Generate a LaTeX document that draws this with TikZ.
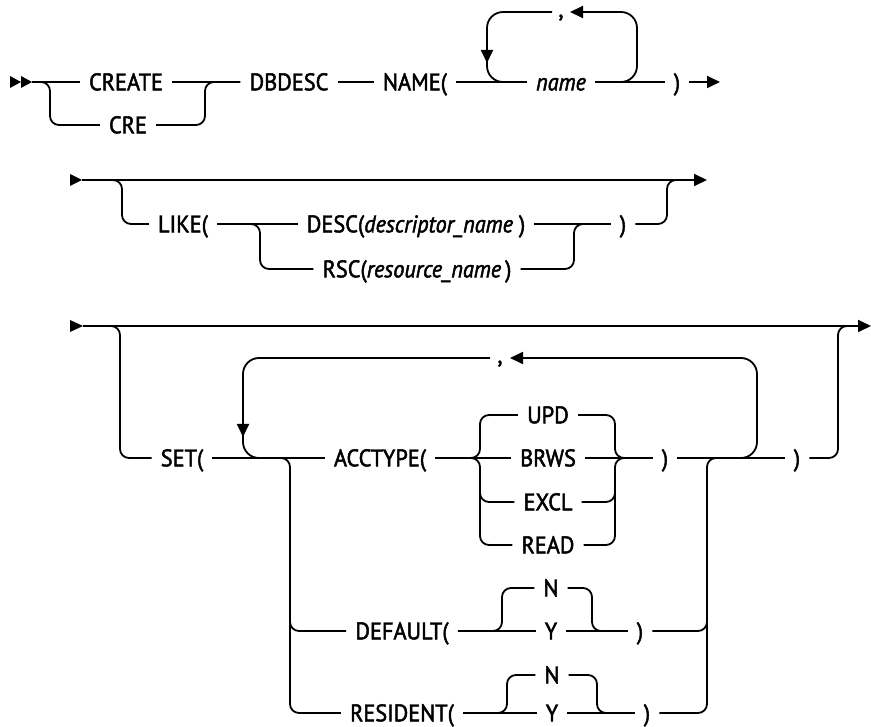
\documentclass[tikz,border=0pt]{standalone}
\usepackage{fontspec}
\setmainfont{PT Sans}[FakeStretch=0.93, FakeBold=2]
\usetikzlibrary{arrows.meta}
\begin{document}
\begin{tikzpicture}[x=1pt,y=-1pt,
  ln/.style={line width=1.8pt},
  rr/.style={line width=1.8pt, rounded corners=9pt},
  lp/.style={line width=1.8pt, rounded corners=16pt},
  kw/.style={inner xsep=9pt, inner ysep=0pt, text height=16.6pt, text depth=0pt, font=\fontsize{24}{27}\selectfont},
  commatext/.style={inner sep=0pt, anchor=base, font=\fontsize{24}{27}\selectfont},
  tip/.style={-{Triangle[length=13pt,width=12pt]}}]
\useasboundingbox (0,0) rectangle (871,727);

% ---------------- Row 1 ----------------
\fill (10,76) -- (21,82) -- (10,88) -- cycle;
\fill (21,76) -- (32,82) -- (21,88) -- cycle;
\coordinate (s1) at (32,82);
\coordinate (e1) at (720,82);
\node[kw] (create) at (126,82) {CREATE};
\node[kw] (cre) at (128,125) {CRE};
\node[kw] (dbdesc) at (289,82) {DBDESC};
\node[kw] (name1) at (415,82) {NAME(};
\node[kw] (nm) at (561,82) {\textit{name}};
\node[kw] (rp1) at (677,82) {)};
\node[commatext] (c1) at (561,17) {,};
\draw[ln] (s1) -- (create.west);
\draw[rr] (s1) -- (50,82) -- (50,125) -- (cre.west);
\draw[ln] (create.east) -- (dbdesc.west);
\draw[rr] (cre.east) -- (205,125) -- (205,82) -- (dbdesc.west);
\draw[ln] (dbdesc.east) -- (name1.west);
\draw[ln] (name1.east) -- (nm.west);
\draw[ln] (nm.east) -- (rp1.west);
\draw[ln,tip] (rp1.east) -- (e1);
\draw[lp,tip] (nm.east) -- (637,82) -- (637,12) -- (570,12);
\draw[lp,tip] (552,12) -- (487,12) -- (487,63);
\draw[lp] (487,50) -- (487,82) -- (nm.west);

% ---------------- Row 2 ----------------
\fill (70,174) -- (82,180) -- (70,186) -- cycle;
\coordinate (s2) at (82,180);
\coordinate (e2) at (707,180);
\node[kw] (like) at (183,224) {LIKE(};
\node[kw] (desc) at (416,224) {DESC(\textit{descriptor\_name} )};
\node[kw] (rsc) at (417,269) {RSC(\textit{resource\_name}\,)};
\node[kw] (rp2) at (623,224) {)};
\draw[ln,tip] (s2) -- (e2);
\draw[rr] (s2) -- (122,180) -- (122,224) -- (like.west);
\draw[ln] (like.east) -- (desc.west);
\draw[rr] (like.east) -- (260,224) -- (260,269) -- (rsc.west);
\draw[ln] (desc.east) -- (rp2.west);
\draw[rr] (rsc.east) -- (574,269) -- (574,224) -- (rp2.west);
\draw[rr] (rp2.east) -- (667,224) -- (667,180) -- (690,180);

% ---------------- Row 3 ----------------
\fill (70,320) -- (83,326) -- (70,332) -- cycle;
\coordinate (s3) at (83,326);
\coordinate (e3) at (871,326);
\node[kw] (set) at (182,458) {SET(};
\node[kw] (acc) at (380,458) {ACCTYPE(};
\node[kw] (upd) at (548,415) {UPD};
\node[kw] (brws) at (548,458) {BRWS};
\node[kw] (excl) at (548,502) {EXCL};
\node[kw] (read) at (548,545) {READ};
\node[kw] (rp3a) at (665,458) {)};
\node[kw] (rp3b) at (797,458) {)};
\node[commatext] (c3) at (500,363) {,};
\node[kw] (def) at (402,631) {DEFAULT(};
\node[kw] (dn) at (551,588) {N};
\node[kw] (dy) at (551,631) {Y};
\node[kw] (rp4) at (640,631) {)};
\node[kw] (res) at (402,713) {RESIDENT(};
\node[kw] (rn) at (552,675) {N};
\node[kw] (ry) at (552,713) {Y};
\node[kw] (rp5) at (647,713) {)};

\draw[ln,tip] (s3) -- (e3);
\draw[rr] (s3) -- (120,326) -- (120,458) -- (set.west);
\draw[ln] (set.east) -- (acc.west);
% repetition loop
\draw[lp,tip] (707,458) -- (757,458) -- (757,358) -- (510,358);
\draw[lp,tip] (490,358) -- (243,358) -- (243,437);
\draw[lp] (243,420) -- (243,458) -- (acc.west);
% ACCTYPE / DEFAULT / RESIDENT left
\draw[rr] (262,458) -- (290,458) -- (290,713) -- (res.west);
\draw[rr] (290,600) -- (290,631) -- (def.west);
% ACCTYPE choice
\draw[ln] (acc.east) -- (brws.west);
\draw[rr] (acc.east) -- (480,458) -- (480,415) -- (upd.west);
\draw[rr] (acc.east) -- (480,458) -- (480,545) -- (read.west);
\draw[rr] (480,480) -- (480,502) -- (excl.west);
\draw[rr] (upd.east) -- (615,415) -- (615,458) -- (rp3a.west);
\draw[rr] (read.east) -- (615,545) -- (615,458) -- (rp3a.west);
\draw[rr] (excl.east) -- (615,502) -- (615,480);
\draw[ln] (brws.east) -- (rp3a.west);
\draw[ln] (rp3a.east) -- (rp3b.west);
% DEFAULT choice
\draw[ln] (def.east) -- (dy.west);
\draw[rr] (def.east) -- (502,631) -- (502,588) -- (dn.west);
\draw[rr] (dn.east) -- (592,588) -- (592,631) -- (rp4.west);
\draw[ln] (dy.east) -- (rp4.west);
% RESIDENT choice
\draw[ln] (res.east) -- (ry.west);
\draw[rr] (res.east) -- (507,713) -- (507,675) -- (rn.west);
\draw[rr] (rn.east) -- (597,675) -- (597,713) -- (rp5.west);
\draw[ln] (ry.east) -- (rp5.west);
% right of ACCTYPE/DEFAULT/RESIDENT
\draw[rr] (rp5.east) -- (707,713) -- (707,458) -- (rp3b.west);
\draw[rr] (rp4.east) -- (707,631) -- (707,600);
% closing
\draw[rr] (rp3b.east) -- (838,458) -- (838,326) -- (855,326);
\end{tikzpicture}
\end{document}
